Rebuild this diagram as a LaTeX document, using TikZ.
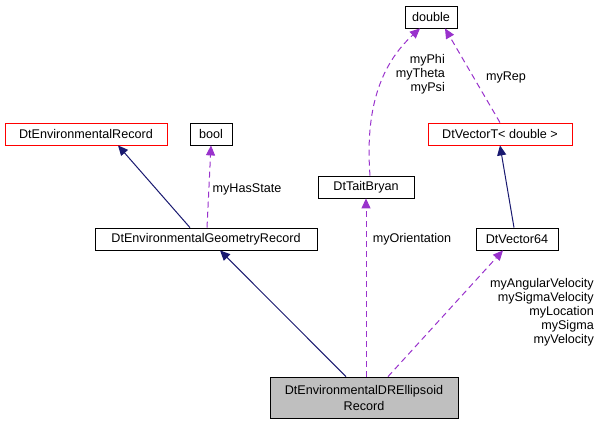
\documentclass[tikz,border=0pt]{standalone}
\usepackage{fontspec}
\setmainfont{Liberation Sans}
\usetikzlibrary{arrows.meta}
\begin{document}
\begin{tikzpicture}[x=1pt,y=-1pt,
  font=\fontsize{12.6}{14}\selectfont,
  box/.style={draw=black,fill=white,inner sep=0pt,minimum height=22pt,anchor=center,line width=0.8pt},
  redbox/.style={box,draw=red},
  inh/.style={draw={rgb,255:red,25;green,25;blue,112},line width=1pt,-{Triangle[length=10pt,width=9pt]}},
  use/.style={draw={rgb,255:red,153;green,50;blue,204},dash pattern=on 6pt off 4pt,line width=1pt,-{Triangle[length=10pt,width=9pt]}},
  lbl/.style={inner sep=0pt,align=center}]
\useasboundingbox (0,0) rectangle (600,424);
\node[box,minimum width=52pt] (dbl) at (431,17) {double};
\node[redbox,minimum width=162pt] (envrec) at (86,134) {DtEnvironmentalRecord};
\node[box,minimum width=42pt] (bool) at (211,134) {bool};
\node[redbox,minimum width=144pt] (vect) at (500,134) {DtVectorT< double >};
\node[box,minimum width=96pt] (tait) at (366,187) {DtTaitBryan};
\node[box,minimum width=222pt] (geo) at (206,239) {DtEnvironmentalGeometryRecord};
\node[box,minimum width=82pt] (v64) at (517,239) {DtVector64};
\node[box,fill={rgb,255:red,191;green,191;blue,191},minimum width=188pt,minimum height=41pt,align=center,font=\fontsize{12.6}{16}\selectfont] (ell) at (364,397.5) {DtEnvironmentalDREllipsoid\\Record};
\draw[inh] (geo.north -| 190,0) -- (envrec.south -| 118,0);
\draw[use] (geo.north -| 207,0) -- (bool.south);
\node[lbl] (l1) at (247,189) {myHasState};
\draw[inh] (ell.north -| 346,0) -- (geo.south -| 220,0);
\draw[use] (ell.north -| 366,0) -- (tait.south);
\node[lbl] (l2) at (412,239) {myOrientation};
\draw[use] (ell.north -| 388,0) -- (v64.south -| 503,0);
\node[lbl,align=right,anchor=north east,font=\fontsize{12.6}{14}\selectfont] (l3) at (594,278) {myAngularVelocity\\mySigmaVelocity\\myLocation\\mySigma\\myVelocity};
\draw[inh] (v64.north -| 514,0) -- (vect.south);
\draw[use] (tait.north -| 370,0) .. controls (365,110) and (380,65) .. (dbl.south -| 420,0);
\node[lbl,align=right,anchor=north east,font=\fontsize{12.6}{14}\selectfont] (l4) at (445,54) {myPhi\\myTheta\\myPsi};
\draw[use] (vect.north) -- (dbl.south -| 445,0);
\node[lbl] (l5) at (506,77) {myRep};
\end{tikzpicture}
\end{document}
